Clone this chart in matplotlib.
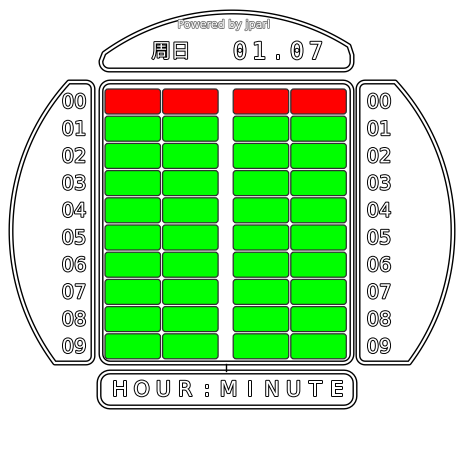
import numpy as np
import matplotlib
matplotlib.use("Agg")
import matplotlib.pyplot as plt
import matplotlib.patheffects as pe
from matplotlib.patches import Polygon, FancyBboxPatch

# Daten: aktuelle Ziffern der Uhrzeit (HH:MM) und Beschriftungen
digit_columns = ["H1", "H2", "M1", "M2"]
digit_values = [0, 0, 0, 0]
row_labels = ["00", "01", "02", "03", "04", "05", "06", "07", "08", "09"]
weekday_text = "周日"
date_text = "01.07"
credit_text = "Powered by jparl"
footer_text = "HOUR:MINUTE"

ACTIVE = "#ff0000"
IDLE = "#00ff00"

fig = plt.figure(figsize=(4.64, 4.64), dpi=100)
ax = fig.add_axes([0, 0, 1, 1])
ax.set_xlim(0, 464)
ax.set_ylim(464, 0)
ax.set_aspect("equal")
ax.axis("off")
fig.patch.set_facecolor("white")

CX, CY, R = 232, 232, 221
outline_fx = [pe.withStroke(linewidth=1.4, foreground="black")]


def double_line(pts, closed=True):
    """Doppelte Kontur: schwarz breit, weiss schmal darueber"""
    ax.add_patch(Polygon(pts, closed=closed, fill=False, ec="black", lw=3.6, joinstyle="round"))
    ax.add_patch(Polygon(pts, closed=closed, fill=False, ec="white", lw=1.6, joinstyle="round"))


def quarter(cx, cy, r, a0, a1, n=8):
    a = np.radians(np.linspace(a0, a1, n))
    return list(zip(cx + r * np.cos(a), cy + r * np.sin(a)))


def side_panel(x_in, y0, y1, rc=7, mirror=False):
    ys = np.linspace(y1, y0, 60)
    xs = CX - np.sqrt(R ** 2 - (ys - CY) ** 2)
    pts = list(zip(xs, ys))
    pts += quarter(x_in - rc, y0 + rc, rc, 270, 360)
    pts += quarter(x_in - rc, y1 - rc, rc, 0, 90)
    pts = np.array(pts)
    if mirror:
        pts[:, 0] = 464 - pts[:, 0]
    return pts


def rounded_rect(x0, y0, x1, y1, rc):
    pts = []
    pts += quarter(x0 + rc, y0 + rc, rc, 180, 270)
    pts += quarter(x1 - rc, y0 + rc, rc, 270, 360)
    pts += quarter(x1 - rc, y1 - rc, rc, 0, 90)
    pts += quarter(x0 + rc, y1 - rc, rc, 90, 180)
    return pts


# Seitenpanels mit Bogen
double_line(side_panel(93, 83, 364))
double_line(side_panel(106, 83, 364, mirror=True))

# Oberes Panel
xs = np.linspace(104, 349, 80)
ys = CY - np.sqrt((R - 2) ** 2 - (xs - CX) ** 2)
top_pts = [(101, 62)] + list(zip(xs, ys)) + [(352, 56)]
top_pts += quarter(344, 63, 8, 0, 90)
top_pts += quarter(109, 63, 8, 90, 180)
double_line(top_pts)

# Rahmen um das Raster
double_line(rounded_rect(101, 83, 352, 364, 9))

# Unteres Panel
double_line(rounded_rect(99, 373, 355, 408, 11))
ax.plot([226, 226], [365, 372], color="black", lw=1)

# Raster der Ziffern
col_w, row_h = 55.5, 25
for ci, (col, val) in enumerate(zip(digit_columns, digit_values)):
    x = 105 + ci * 57.6 + (13 if ci >= 2 else 0)
    for r in range(len(row_labels)):
        y = 90 + r * 27.2
        color = ACTIVE if r == val else IDLE
        box = FancyBboxPatch((x, y), col_w, row_h, boxstyle="round,pad=0,rounding_size=3",
                             fc=color, ec="#303030", lw=0.9)
        ax.add_patch(box)

# Zeilenbeschriftungen links und rechts
label_font = ["DejaVu Sans"]
for r, lab in enumerate(row_labels):
    y = 90 + r * 27.2 + row_h / 2
    for xc in (74, 379):
        ax.text(xc, y + 1, lab, ha="center", va="center", fontsize=14, color="white",
                family=label_font, path_effects=outline_fx)

# Kopfzeile
ax.text(224, 26, credit_text, ha="center", va="center", fontsize=8, color="white",
        family=label_font, path_effects=[pe.withStroke(linewidth=1.2, foreground="#777777")])
ax.text(171, 53, weekday_text, ha="center", va="center", fontsize=14, color="white",
        family=["Noto Sans CJK SC", "DejaVu Sans"], path_effects=outline_fx)
for i, ch in enumerate(date_text):
    ax.text(240 + i * 19, 53, ch, ha="center", va="center", fontsize=17, color="white",
            family=["DejaVu Sans Mono"], path_effects=outline_fx)

# Fusszeile
for i, ch in enumerate(footer_text):
    ax.text(120 + i * 21.7, 391, ch, ha="center", va="center", fontsize=15, color="white",
            family=label_font, path_effects=outline_fx)

fig.savefig("out.png", dpi=100, facecolor="white")
